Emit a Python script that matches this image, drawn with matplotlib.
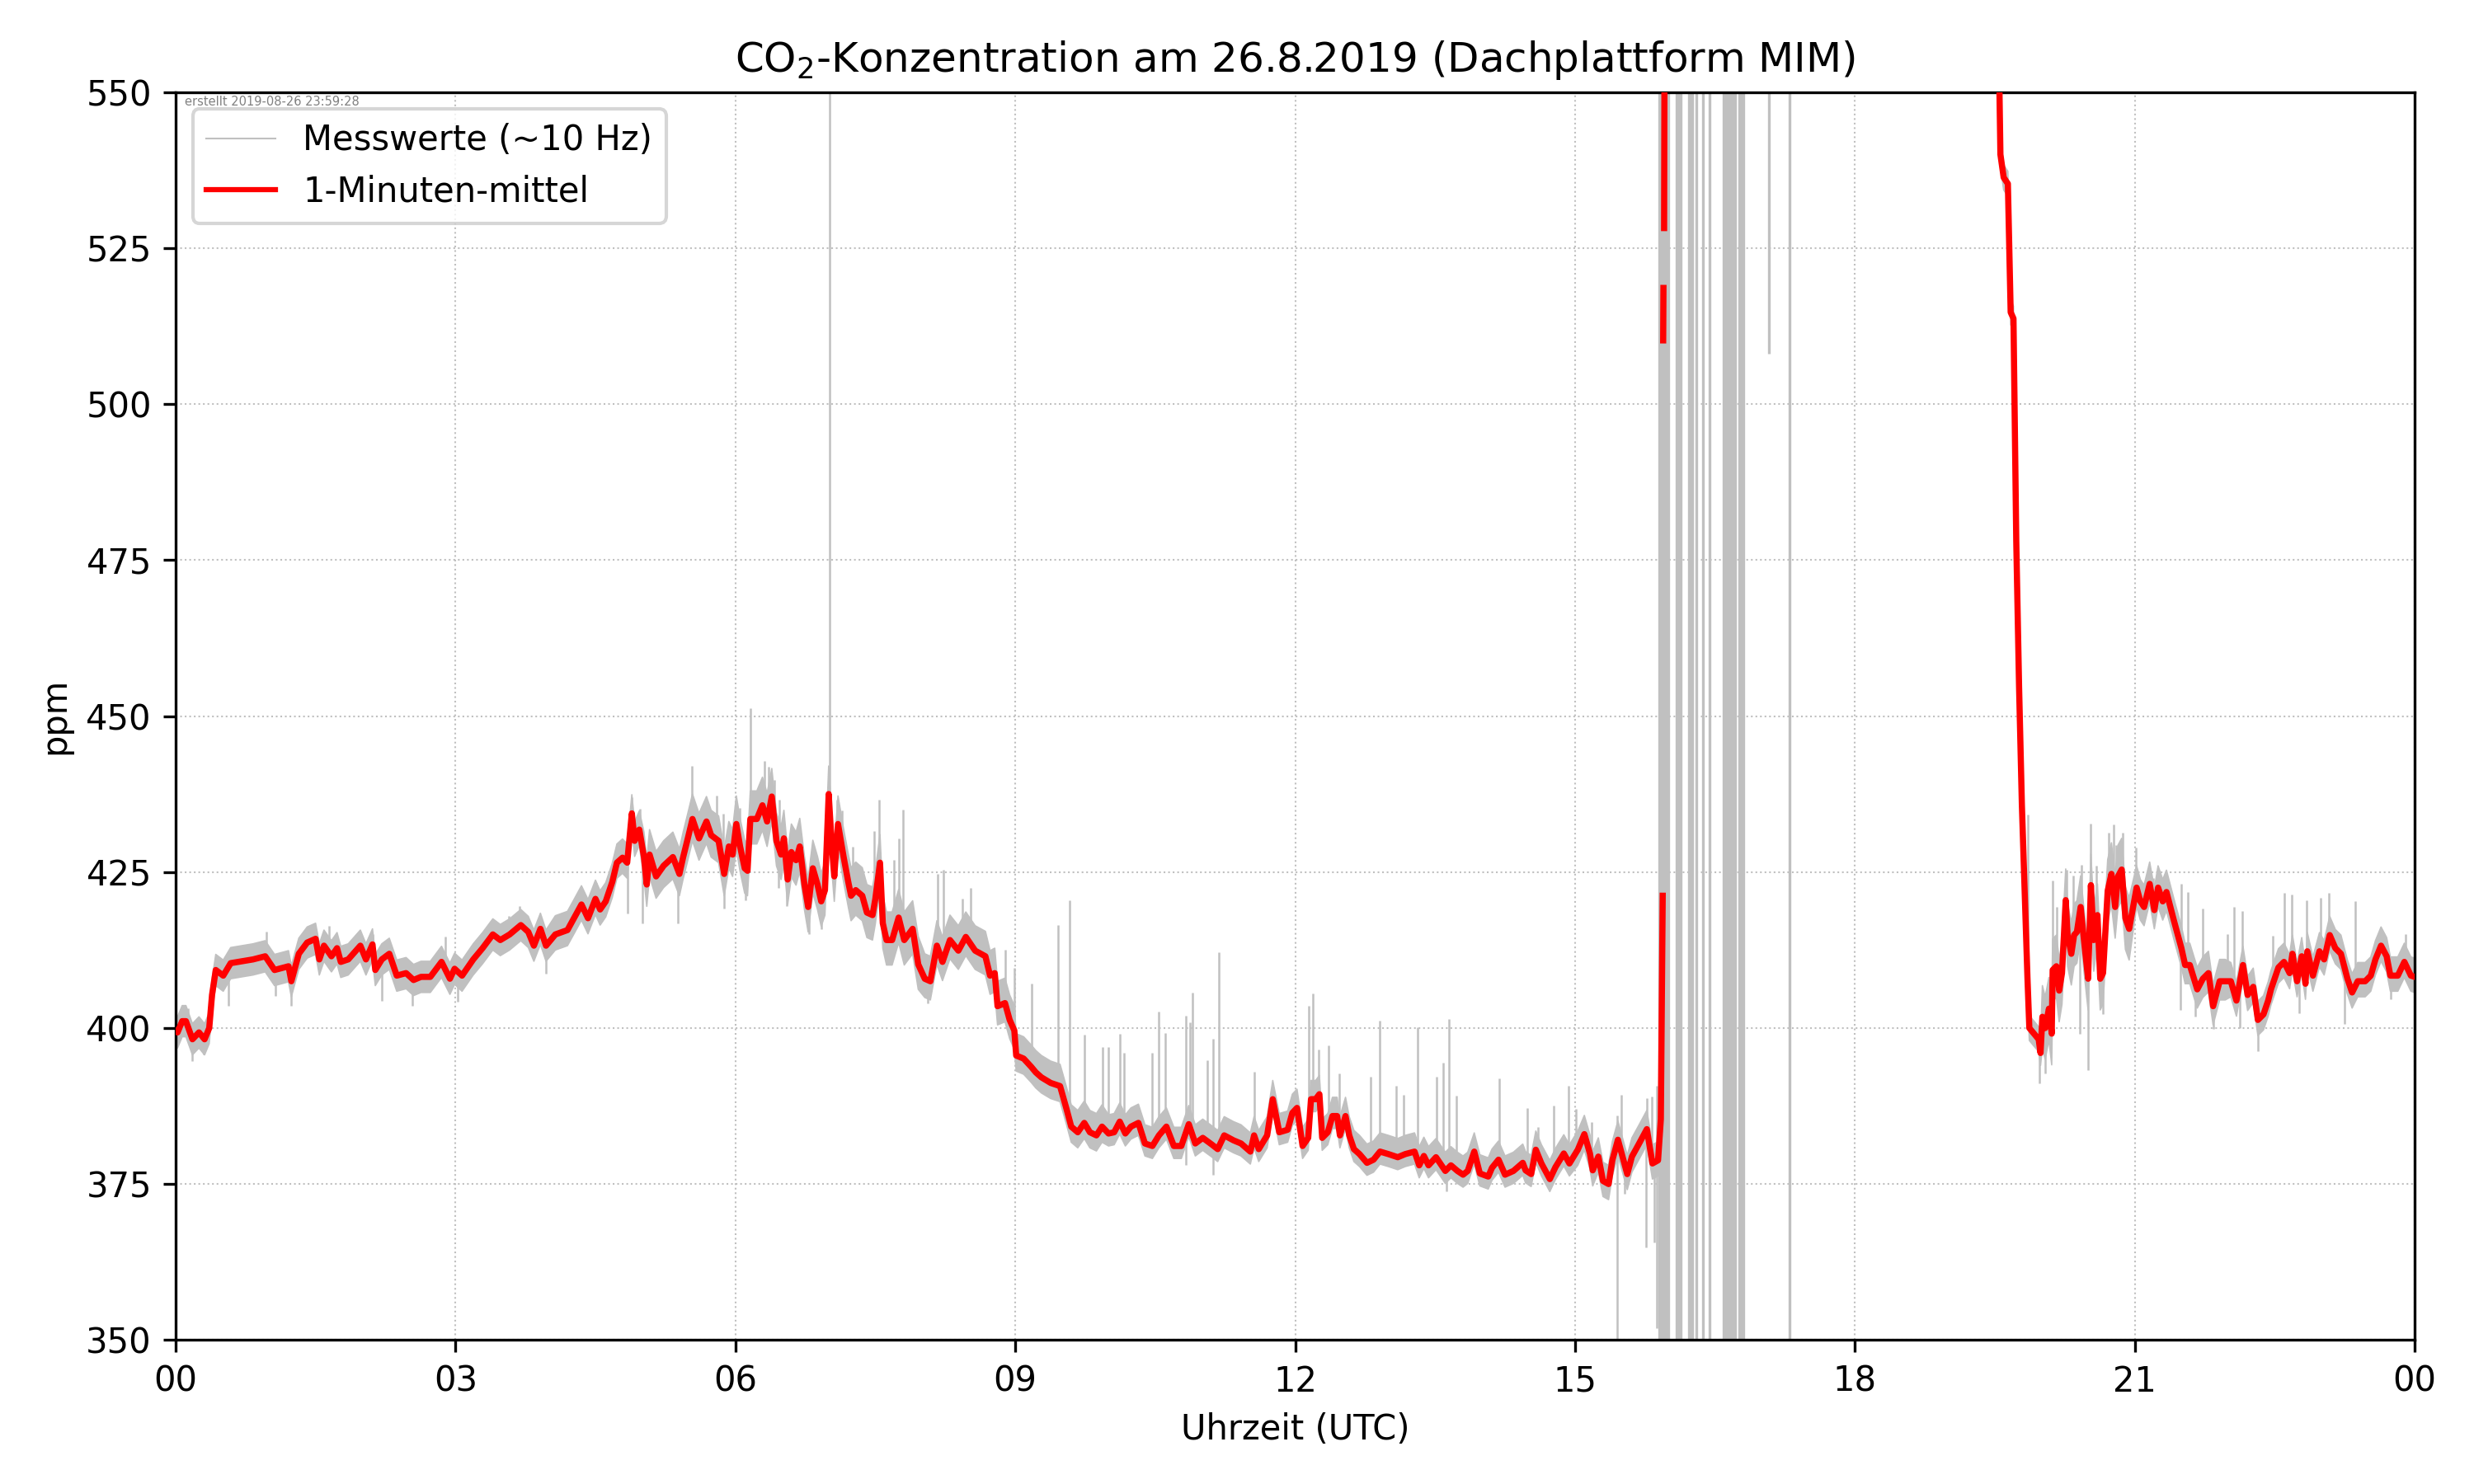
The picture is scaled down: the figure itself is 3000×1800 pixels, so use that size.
import numpy as np
import matplotlib
matplotlib.use("Agg")
import matplotlib.pyplot as plt
from matplotlib.lines import Line2D

# 1-Minuten-mittel (Stunde UTC, ppm); nan = Lücke / ausserhalb
red_h = [
    0.00, 0.02, 0.07, 0.11, 0.18, 0.25, 0.31, 0.36, 0.39, 0.43, 0.51, 0.59, 0.67, 0.83, 0.96,
    1.06, 1.21, 1.24, 1.32, 1.41, 1.50, 1.54, 1.59, 1.67, 1.73, 1.77, 1.85, 1.98,
    2.04, 2.11, 2.14, 2.21, 2.29, 2.37, 2.47, 2.55, 2.63, 2.73, 2.85, 2.94, 2.99,
    3.07, 3.19, 3.29, 3.40, 3.48, 3.58, 3.70, 3.78, 3.84, 3.91, 3.97,
    4.07, 4.20, 4.27, 4.35, 4.42, 4.50, 4.55, 4.61, 4.68, 4.73, 4.79, 4.84, 4.89, 4.92, 4.97,
    5.02, 5.05, 5.08, 5.15, 5.23, 5.33, 5.40, 5.44, 5.49, 5.54, 5.61, 5.69, 5.74, 5.82, 5.88, 5.93, 5.97,
    6.01, 6.05, 6.10, 6.13, 6.16, 6.23, 6.29, 6.34, 6.39, 6.44, 6.49, 6.52, 6.56, 6.60, 6.65, 6.69,
    6.74, 6.78, 6.83, 6.88, 6.92, 6.96,
    7.00, 7.03, 7.06, 7.10, 7.16, 7.21, 7.24, 7.29, 7.36, 7.41, 7.47, 7.50, 7.55, 7.58, 7.62, 7.68,
    7.75, 7.81, 7.90, 7.96,
    8.03, 8.09, 8.16, 8.22, 8.30, 8.39, 8.47, 8.57, 8.68, 8.73, 8.78, 8.81, 8.89, 8.94, 8.99,
    9.01, 9.09, 9.17, 9.22, 9.28, 9.38, 9.48, 9.55, 9.60, 9.67, 9.74, 9.80, 9.87, 9.93,
    10.00, 10.06, 10.12, 10.18, 10.24, 10.32, 10.39, 10.47, 10.54, 10.62, 10.70, 10.78, 10.86, 10.93,
    11.01, 11.11, 11.17, 11.24, 11.34, 11.42, 11.52, 11.56, 11.61, 11.70, 11.76, 11.83, 11.92, 11.97,
    12.02, 12.08, 12.14, 12.17, 12.22, 12.26, 12.29, 12.35, 12.40, 12.45, 12.48, 12.54, 12.58, 12.63,
    12.69, 12.77, 12.84, 12.91,
    13.00, 13.10, 13.18, 13.28, 13.33, 13.38, 13.43, 13.51, 13.61, 13.67, 13.74, 13.80, 13.85, 13.92, 13.98,
    14.07, 14.11, 14.18, 14.25, 14.34, 14.44, 14.47, 14.53, 14.58, 14.64, 14.73, 14.79, 14.88, 14.94,
    15.03, 15.10, 15.16, 15.19, 15.25, 15.30, 15.36, 15.40, 15.46, 15.52, 15.56, 15.61, 15.68, 15.77,
    15.83, 15.89, 15.92, 15.94, 15.942, 15.945, 15.948, 15.951, 15.955, 15.96, 15.97,
    19.53, 19.54, 19.55, 19.56, 19.595, 19.64, 19.67, 19.70, 19.73, 19.76, 19.79, 19.82, 19.85, 19.87,
    19.92, 19.97, 19.99, 20.01, 20.04, 20.08, 20.11, 20.12, 20.16, 20.19, 20.22, 20.26, 20.28, 20.32,
    20.35, 20.38, 20.42, 20.45, 20.50, 20.53, 20.56, 20.60, 20.63, 20.66, 20.71, 20.75, 20.79, 20.82,
    20.86, 20.90, 20.94,
    21.02, 21.06, 21.10, 21.16, 21.21, 21.25, 21.30, 21.34, 21.42, 21.50, 21.54, 21.59, 21.67, 21.73,
    21.79, 21.84, 21.91, 21.97,
    22.03, 22.09, 22.16, 22.21, 22.27, 22.32, 22.38, 22.43, 22.46, 22.54, 22.60, 22.66, 22.69, 22.74,
    22.79, 22.83, 22.85, 22.91, 22.98,
    23.03, 23.09, 23.15, 23.21, 23.28, 23.33, 23.39, 23.47, 23.53, 23.58, 23.64, 23.70, 23.74, 23.82,
    23.89, 23.96, 24.00,
]
nan = np.nan
red_ppm = [
    399.5, 399.3, 401.1, 401.1, 398.2, 399.3, 398.2, 400.0, 405.3, 409.3, 408.4, 410.4, 410.6, 411.0, 411.5,
    409.3, 409.9, 407.5, 411.9, 413.7, 414.3, 411.0, 413.2, 411.5, 412.8, 410.6, 411.0, 413.2,
    411.0, 413.4, 409.3, 411.0, 411.9, 408.4, 408.8, 407.7, 408.2, 408.2, 410.6, 407.9, 409.5,
    408.4, 411.0, 412.8, 415.0, 414.1, 415.0, 416.5, 415.4, 413.2, 415.9, 413.2,
    415.0, 415.7, 417.6, 419.8, 417.6, 420.7, 419.0, 420.3, 423.4, 426.5, 427.3, 426.5, 434.4, 430.0, 431.8,
    427.4, 423.0, 427.8, 424.3, 426.0, 427.4, 424.7, 427.4, 430.4, 433.5, 430.4, 433.1, 430.9, 430.0, 424.7, 429.1, 427.8,
    432.7, 429.1, 425.6, 425.2, 433.5, 433.5, 435.7, 433.1, 437.1, 430.0, 427.8, 430.4, 423.8, 428.2, 426.9, 429.1,
    423.0, 419.4, 425.6, 423.0, 420.3, 422.1,
    437.5, 430.0, 424.3, 432.7, 427.4, 423.4, 421.2, 422.1, 421.2, 418.5, 418.1, 420.7, 426.5, 416.8, 414.1, 414.1,
    417.7, 414.1, 415.9, 410.2,
    407.9, 407.5, 413.2, 410.6, 414.1, 412.4, 414.6, 412.4, 411.5, 408.4, 408.8, 403.5, 404.0, 401.3, 399.6,
    395.6, 395.1, 393.8, 392.9, 392.1, 391.2, 390.7, 387.0, 384.2, 383.3, 384.8, 383.3, 382.8, 384.2,
    383.1, 383.3, 385.0, 383.1, 384.2, 384.8, 381.5, 381.1, 382.8, 384.2, 381.1, 381.1, 384.6, 381.5,
    382.4, 381.3, 380.6, 382.8, 382.0, 381.5, 380.2, 382.8, 380.6, 382.8, 388.6, 383.3, 383.7, 386.4,
    387.2, 381.1, 382.4, 388.6, 388.6, 389.4, 382.4, 383.3, 385.9, 385.9, 382.8, 385.9, 382.8, 380.6,
    379.8, 378.4, 378.9, 380.2,
    379.8, 379.3, 379.8, 380.2, 378.0, 379.5, 378.0, 379.3, 377.1, 378.0, 377.1, 376.5, 377.1, 380.2, 376.7,
    376.2, 377.6, 378.9, 376.5, 377.1, 378.4, 377.2, 376.6, 380.5, 378.3, 375.8, 377.7, 379.9, 378.3,
    380.5, 383.0, 379.9, 377.2, 379.4, 375.5, 375.0, 378.8, 382.1, 378.8, 376.6, 379.4, 381.3, 383.8,
    378.3, 378.8, 385.4, 421.2, nan, 510.2, 518.6, nan, 528.2, 560.0, nan,
    nan, 560.0, 550.0, 540.0, 536.3, 535.3, 514.7, 513.7, 477.9, 454.7, 435.8, 422.0, 408.0, 400.0,
    399.1, 398.2, 396.0, 401.8, 400.0, 403.1, 399.1, 409.3, 409.9, 406.0, 408.8, 420.5, 414.9, 411.9,
    414.9, 415.4, 419.4, 414.9, 407.9, 422.9, 414.1, 418.1, 407.9, 408.8, 422.0, 424.7, 419.4, 424.3,
    425.4, 417.6, 415.9,
    422.5, 420.3, 419.4, 423.1, 418.9, 422.5, 420.3, 421.8, 417.2, 412.8, 410.1, 410.1, 406.2, 407.9,
    408.8, 403.5, 407.5, 407.5,
    407.5, 404.4, 410.1, 405.3, 406.6, 401.3, 402.2, 404.4, 406.2, 409.7, 410.6, 408.8, 411.9, 407.5,
    411.5, 407.1, 412.3, 408.4, 412.3,
    411.0, 414.9, 412.8, 411.9, 407.9, 405.7, 407.5, 407.5, 408.4, 411.0, 413.2, 411.5, 408.4, 408.4,
    410.6, 408.4, 408.2,
]

# Rauschbreite der Messwerte je Stunde (ppm ueber / unter dem Mittel)
noise_up = [2.5, 2.5, 2.5, 2.5, 3.0, 4.0, 4.5, 4.5, 4.0, 3.5, 3.0, 3.0,
            3.0, 3.0, 3.0, 3.0, 2.0, 2.0, 2.0, 2.0, 5.0, 3.5, 3.0, 3.0]
noise_dn = [2.5, 2.5, 2.5, 2.5, 2.5, 3.5, 4.0, 4.0, 3.0, 2.5, 2.0, 2.0,
            2.0, 2.0, 2.0, 2.5, 2.0, 2.0, 2.0, 2.0, 5.0, 3.0, 2.5, 2.5]

# einzelne Ausreisser der Messwerte (Stunde, Spitzenwert)
spike_h = [0.13, 0.97, 1.50, 1.64, 2.11, 2.29, 2.89, 3.57, 3.69, 3.91, 4.15, 4.36, 4.51, 4.89, 4.98,
           5.53, 5.80, 5.87, 6.05, 6.16, 6.31, 6.36, 6.42, 6.47, 7.01, 7.09, 7.14, 7.26, 7.49, 7.54,
           7.70, 7.75, 7.80, 8.17, 8.23, 8.43, 8.52, 8.89, 8.99, 9.18, 9.46, 9.58, 9.74, 9.94,
           10.00, 10.12, 10.17, 10.47, 10.54, 10.61, 10.83, 10.87, 10.90, 11.06, 11.12, 11.18, 11.56,
           11.77, 12.15, 12.19, 12.25, 12.36, 12.47, 12.81, 12.91, 13.08, 13.16, 13.31, 13.52, 13.59,
           13.65, 13.73, 14.19, 14.49, 14.60, 14.77, 14.93, 15.01, 15.18, 15.45, 15.50, 15.77, 15.82,
           15.88, 19.85, 20.01, 20.12, 20.16, 20.27, 20.34, 20.43, 20.53, 20.59, 20.72, 20.77, 20.80,
           20.87, 21.01, 21.20, 21.26, 21.50, 21.57, 21.73, 21.99, 22.06, 22.15, 22.48, 22.60, 22.68,
           22.84, 22.99, 23.08, 23.15, 23.36, 23.90,
           # nach unten
           0.18, 0.30, 0.57, 1.07, 1.24, 2.21, 2.54, 3.02, 3.97, 4.84, 5.00, 5.38, 5.88, 6.11, 6.46,
           6.55, 6.79, 6.92, 8.06, 10.83, 11.12, 13.62, 15.45, 15.53, 15.76, 15.85, 15.88,
           19.98, 20.04, 20.41, 20.50, 20.66, 21.49, 21.65, 21.84, 22.13, 22.32, 22.76, 23.25, 23.74]
spike_ppm = [403.1, 415.4, 415.5, 416.4, 415.1, 413.7, 414.6, 418.0, 419.5, 416.8, 416.8, 420.4, 423.3, 437.0, 435.1,
             442.0, 437.3, 434.4, 435.3, 451.3, 442.8, 441.9, 439.7, 436.6, 560.0, 436.6, 434.9, 429.1, 431.6, 436.6,
             426.9, 430.4, 435.0, 424.7, 425.4, 420.7, 422.5, 412.6, 409.7, 407.1, 416.5, 420.5, 398.9, 396.9,
             396.9, 399.1, 396.0, 396.0, 402.6, 399.2, 402.0, 400.9, 405.7, 394.8, 398.3, 412.2, 393.0,
             390.5, 403.5, 405.5, 396.6, 397.2, 392.7, 392.2, 401.2, 390.8, 389.3, 400.1, 392.2, 394.5,
             401.5, 389.1, 392.0, 387.2, 384.2, 387.6, 390.7, 387.1, 384.9, 386.0, 389.3, 388.7, 389.0,
             390.7, 434.2, 405.3, 423.6, 419.4, 425.4, 424.5, 426.2, 432.7, 426.0, 431.3, 432.6, 429.3,
             431.3, 428.9, 424.0, 424.3, 423.1, 421.8, 419.2, 415.0, 419.4, 418.7, 414.8, 421.6, 421.4,
             420.5, 420.9, 421.6, 415.7, 420.3, 415.0,
             394.7, 395.8, 403.6, 405.1, 403.5, 404.3, 403.5, 404.2, 408.7, 418.4, 416.8, 416.8, 419.2, 420.5, 422.5,
             419.6, 415.0, 415.9, 404.0, 378.0, 376.5, 373.8, 340.0, 373.4, 364.8, 365.7, 351.9,
             391.2, 392.7, 399.1, 393.2, 402.2, 402.9, 401.8, 399.8, 400.0, 396.3, 402.4, 400.7, 404.6]

# gestoerter Abschnitt: senkrechte Messwert-Spruenge (Stunde, unten, oben)
burst_h = [15.90, 15.92, 15.94, 15.96, 15.98, 16.00, 16.09, 16.11, 16.13, 16.22, 16.24, 16.26,
           16.30, 16.37, 16.44, 16.59, 16.61, 16.63, 16.65, 16.67, 16.70, 16.72, 16.76, 16.78,
           16.80, 17.08, 17.30]
burst_lo = [340, 340, 340, 340, 340, 340, 340, 340, 340, 340, 340, 340,
            340, 340, 340, 340, 340, 340, 340, 340, 340, 340, 340, 340,
            340, 508, 340]
burst_hi = [560] * 25 + [560, 560]

tick_h = [0, 3, 6, 9, 12, 15, 18, 21, 24]
tick_lbl = ["00", "03", "06", "09", "12", "15", "18", "21", "00"]

rh = np.array(red_h)
rp = np.array(red_ppm)
idx = np.clip(np.floor(rh).astype(int), 0, 23)
band_hi = rp + np.array(noise_up)[idx]
band_lo = rp - np.array(noise_dn)[idx]

fig, ax = plt.subplots(figsize=(10, 6))
fig.subplots_adjust(left=0.071, right=0.976, bottom=0.097, top=0.938)

gray = "silver"
ax.fill_between(rh, band_lo, band_hi, color=gray, lw=0.4, edgecolor=gray)

# Ausreisser vom Mittelwert aus
sh = np.array(spike_h)
near = np.array([np.nanargmin(np.abs(rh - t) + np.where(np.isnan(rp), 99, 0)) for t in sh])
ax.vlines(sh, rp[near], spike_ppm, color=gray, lw=0.6)
ax.vlines(burst_h, burst_lo, burst_hi, color=gray, lw=0.8)

ax.plot(rh, rp, color="red", lw=1.8, zorder=3)

ax.set_xlim(0, 24)
ax.set_ylim(350, 550)
ax.set_xticks(tick_h)
ax.set_xticklabels(tick_lbl)
ax.set_yticks(np.arange(350, 551, 25))
ax.grid(True, ls=":", lw=0.5, color="#c0c0c0")

ax.set_title("CO$_2$-Konzentration am 26.8.2019 (Dachplattform MIM)", fontsize=12)
ax.set_xlabel("Uhrzeit (UTC)")
ax.set_ylabel("ppm")
ax.text(0.004, 0.997, "erstellt 2019-08-26 23:59:28", transform=ax.transAxes,
        fontsize=3.5, color="gray", va="top", ha="left")

handles = [Line2D([], [], color=gray, lw=0.5),
           Line2D([], [], color="red", lw=1.5)]
ax.legend(handles, ["Messwerte (~10 Hz)", "1-Minuten-mittel"], loc="upper left", fontsize=10)

plt.savefig("out.png", dpi=300)
